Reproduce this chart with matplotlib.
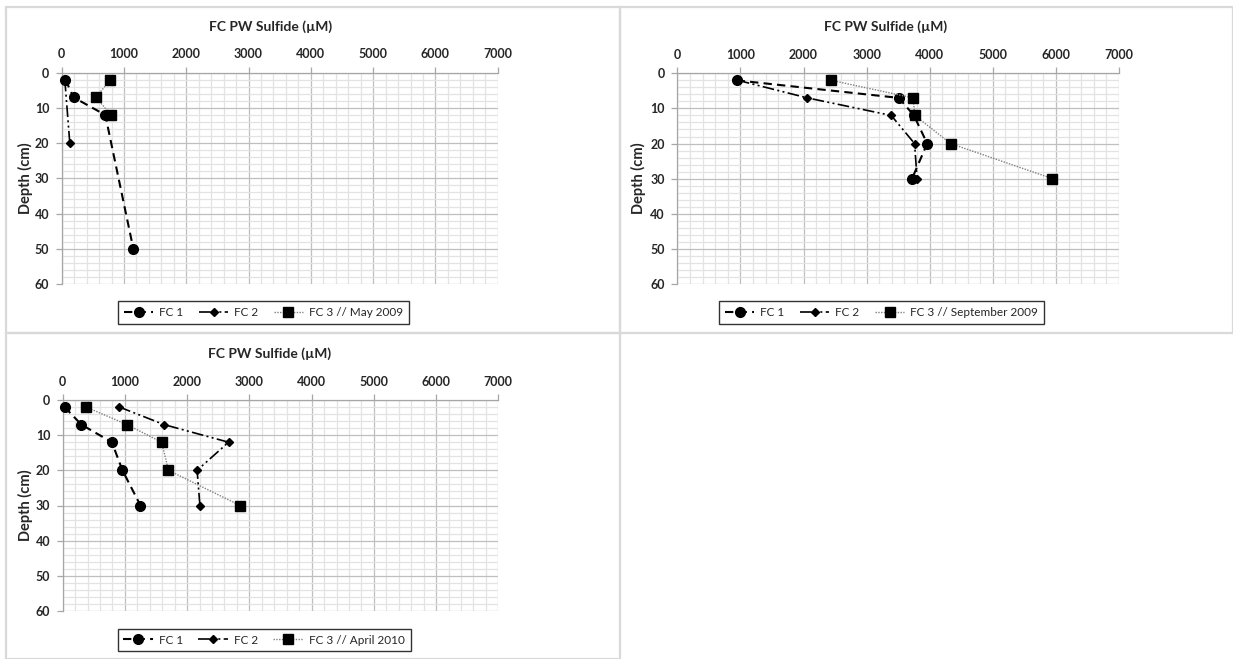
import matplotlib
matplotlib.use("Agg")
import matplotlib.pyplot as plt
from matplotlib.patches import Rectangle
from matplotlib.ticker import MultipleLocator

plt.rcParams['font.family'] = ['Lato', 'DejaVu Sans']

W, H = 1233, 659

# ---- data: sulfide (uM) vs depth (cm) ----
may_fc1_x = [60, 190, 700, 1150]
may_fc1_y = [2, 7, 12, 50]
may_fc2_x = [50, 130]
may_fc2_y = [2, 20]
may_fc3_x = [780, 550, 790]
may_fc3_y = [2, 7, 12]

sep_fc1_x = [940, 3510, 3750, 3960, 3720]
sep_fc1_y = [2, 7, 12, 20, 30]
sep_fc2_x = [960, 2060, 3390, 3760, 3800]
sep_fc2_y = [2, 7, 12, 20, 30]
sep_fc3_x = [2440, 3735, 3765, 4330, 5945]
sep_fc3_y = [2, 7, 12, 20, 30]

apr_fc1_x = [30, 300, 790, 960, 1250]
apr_fc1_y = [2, 7, 12, 20, 30]
apr_fc2_x = [910, 1630, 2665, 2160, 2205]
apr_fc2_y = [2, 7, 12, 20, 30]
apr_fc3_x = [375, 1035, 1590, 1700, 2850]
apr_fc3_y = [2, 7, 12, 20, 30]

title = "FC PW Sulfide (\u00b5M)"
ylabel = "Depth (cm)"
series_names = ["FC 1", "FC 2"]
fc3_names = ["FC 3 // May 2009", "FC 3 // September 2009", "FC 3 // April 2010"]

panels = [
    dict(data=[(may_fc1_x, may_fc1_y), (may_fc2_x, may_fc2_y), (may_fc3_x, may_fc3_y)],
         ax=(61.7, 497.7, 72.7, 284), box=(6, 620, 7, 333),
         title_xy=(271, 27), ylab_x=25, leg=(125, 402, 300, 325), fc3=fc3_names[0]),
    dict(data=[(sep_fc1_x, sep_fc1_y), (sep_fc2_x, sep_fc2_y), (sep_fc3_x, sep_fc3_y)],
         ax=(677.3, 1119, 73.3, 284), box=(620, 1233, 7, 333),
         title_xy=(886, 27), ylab_x=638, leg=(723, 1040, 300, 325), fc3=fc3_names[1]),
    dict(data=[(apr_fc1_x, apr_fc1_y), (apr_fc2_x, apr_fc2_y), (apr_fc3_x, apr_fc3_y)],
         ax=(62.7, 498.3, 400, 611), box=(6, 620, 333, 659),
         title_xy=(270, 354), ylab_x=25, leg=(125, 403, 627, 653), fc3=fc3_names[2]),
]

fig = plt.figure(figsize=(W / 100, H / 100), dpi=100)
fig.patch.set_facecolor("white")

def fx(px):
    return px / W

def fy(py):
    return 1 - py / H

# panel frames
for p in panels:
    x0, x1, y0, y1 = p["box"]
    fig.add_artist(Rectangle((fx(x0), fy(y1)), fx(x1 - x0), (y1 - y0) / H,
                             transform=fig.transFigure, fill=False,
                             edgecolor="#d9d9d9", linewidth=1.6, zorder=0))

styles = [
    dict(color="black", lw=1.5, dashes=(4, 2.5), marker="o", ms=7),
    dict(color="black", lw=1.2, dashes=(7, 2, 1.2, 2, 1.2, 2), marker="D", ms=3.8),
    dict(color="#7f7f7f", lw=1.0, dashes=(1, 1), marker="s", ms=7),
]

for p in panels:
    l, r, t, b = p["ax"]
    ax = fig.add_axes([fx(l), fy(b), fx(r - l), (b - t) / H])
    ax.set_xlim(0, 7000)
    ax.set_ylim(60, 0)
    ax.xaxis.set_major_locator(MultipleLocator(1000))
    ax.xaxis.set_minor_locator(MultipleLocator(200))
    ax.yaxis.set_major_locator(MultipleLocator(10))
    ax.yaxis.set_minor_locator(MultipleLocator(2))
    ax.grid(which="major", color="#bfbfbf", lw=0.9)
    ax.grid(which="minor", color="#e3e3e3", lw=0.9)
    ax.set_axisbelow(True)
    ax.xaxis.tick_top()
    ax.tick_params(which="major", length=4, width=0.9, color="#a6a6a6",
                   labelsize=9, pad=5)
    ax.tick_params(which="minor", length=0)
    for lab in ax.get_xticklabels() + ax.get_yticklabels():
        lab.set_fontweight("bold")
        lab.set_color("#262626")
    for s in ["right", "bottom"]:
        ax.spines[s].set_visible(False)
    for s in ["left", "top"]:
        ax.spines[s].set_color("#a6a6a6")
        ax.spines[s].set_linewidth(0.9)

    handles = []
    labels = series_names + [p["fc3"]]
    for (xs, ys), st, lab in zip(p["data"], styles, labels):
        h, = ax.plot(xs, ys, color=st["color"], lw=st["lw"], dashes=st["dashes"],
                     marker=st["marker"], ms=st["ms"], mfc="black", mec="black",
                     label=lab, clip_on=False, zorder=3)
        handles.append(h)

    tx, ty = p["title_xy"]
    fig.text(fx(tx), fy(ty), title, ha="center", va="center",
             fontsize=10, fontweight="bold", color="#262626")
    fig.text(fx(p["ylab_x"]), fy((t + b) / 2), ylabel, ha="center", va="center",
             rotation=90, fontsize=10.5, fontweight="bold", color="#262626")

    lx0, lx1, ly0, ly1 = p["leg"]
    leg = fig.legend(handles=handles, labels=labels, ncol=3,
                     loc="center", bbox_to_anchor=(fx((lx0 + lx1) / 2), fy((ly0 + ly1) / 2)),
                     frameon=True, fancybox=False, fontsize=8.5,
                     handlelength=2.5, handletextpad=0.5, columnspacing=1.3,
                     borderpad=0.5, borderaxespad=0)
    leg.get_frame().set_edgecolor("black")
    leg.get_frame().set_linewidth(1.0)
    for txt in leg.get_texts():
        txt.set_color("#262626")

fig.savefig("out.png", dpi=100, facecolor="white")
